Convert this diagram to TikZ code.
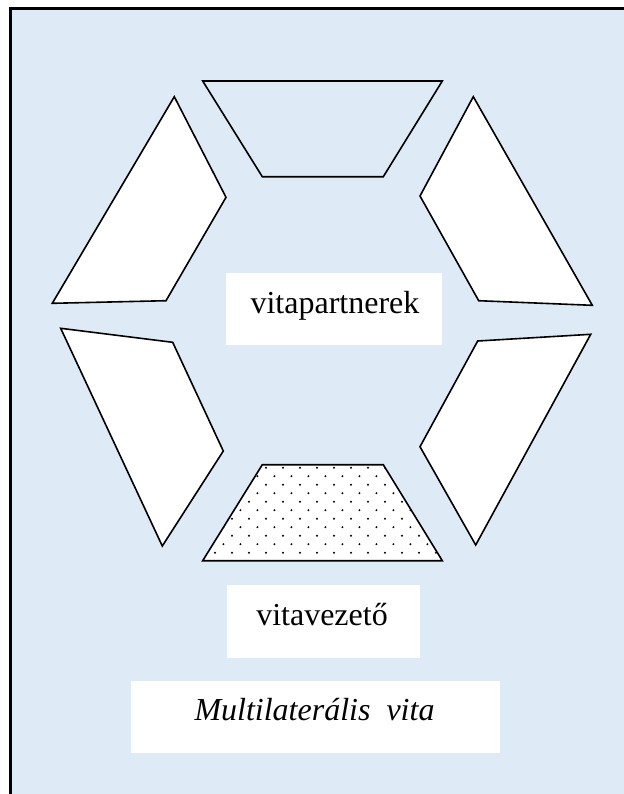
\documentclass[tikz,border=0pt]{standalone}
\usepackage{fontspec}
\setmainfont{Liberation Serif}
\definecolor{bgblue}{RGB}{222,234,246}
\begin{document}
\begin{tikzpicture}[x=0.75pt,y=-0.75pt,
  piece/.style={draw=black, line width=1.2pt, line join=miter, fill=white},
  labelbox/.style={fill=white, draw=none, inner sep=0pt},
  labeltext/.style={anchor=base, inner sep=0pt, font=\fontsize{24pt}{28pt}\selectfont},
  titletext/.style={anchor=base, inner sep=0pt, font=\fontsize{24pt}{28pt}\selectfont\itshape},
  dot/.style={fill=black},
]
\useasboundingbox (0,0) rectangle (624,794);
\clip (0,0) rectangle (624,794);
\fill[white] (0,0) rectangle (624,794);
\filldraw[fill=bgblue, draw=black, line width=1.7pt] (10.5,8.5) rectangle (650,820);

% top trapezoid (unfilled)
\draw[piece, fill=none] (202.7,81) -- (442.3,81) -- (383.3,176.7) -- (262.3,176.7) -- cycle;
% upper left
\draw[piece] (174.3,96.7) -- (226,197.3) -- (166,300.7) -- (52.3,303.3) -- cycle;
% upper right
\draw[piece] (473.3,96.7) -- (592.3,305.3) -- (478.7,300.7) -- (420,196) -- cycle;
% lower left
\draw[piece] (60.7,328.3) -- (172.7,342.3) -- (223.3,451) -- (162.3,546) -- cycle;
% lower right
\draw[piece] (477.7,341) -- (590.7,334.3) -- (475.7,545) -- (420,446.7) -- cycle;
% bottom dotted trapezoid
\fill[white] (262.3,464.7) -- (383.3,464.7) -- (442.3,560.7) -- (202.7,560.7) -- cycle;
\begin{scope}
  \clip (262.3,464.7) -- (383.3,464.7) -- (442.3,560.7) -- (202.7,560.7) -- cycle;
  \foreach \r in {0,...,11} {
    \foreach \c in {0,...,16} {
      \pgfmathsetmacro{\xx}{198 + mod(\r,2)*8.4 + 17*\c}
      \pgfmathsetmacro{\yy}{467.7 + 8.5*\r}
      \fill[dot] (\xx,\yy) circle[radius=1.1];
    }
  }
\end{scope}
\draw[piece, fill=none] (262.3,464.7) -- (383.3,464.7) -- (442.3,560.7) -- (202.7,560.7) -- cycle;

% label boxes
\node[labelbox, minimum width=162pt, minimum height=54pt] (partnerbox) at (334,309) {};
\node[labeltext] (partnertext) at (335,313) {vitapartnerek};
\node[labelbox, minimum width=145pt, minimum height=54.5pt] (vezetobox) at (323.3,621.3) {};
\node[labeltext] (vezetotext) at (322,625) {vitavezető};
\node[labelbox, minimum width=276.75pt, minimum height=54.2pt] (titlebox) at (315.5,717.2) {};
\node[titletext] (titletext) at (314.5,720.7) {Multilaterális\ \ vita};
\end{tikzpicture}
\end{document}
